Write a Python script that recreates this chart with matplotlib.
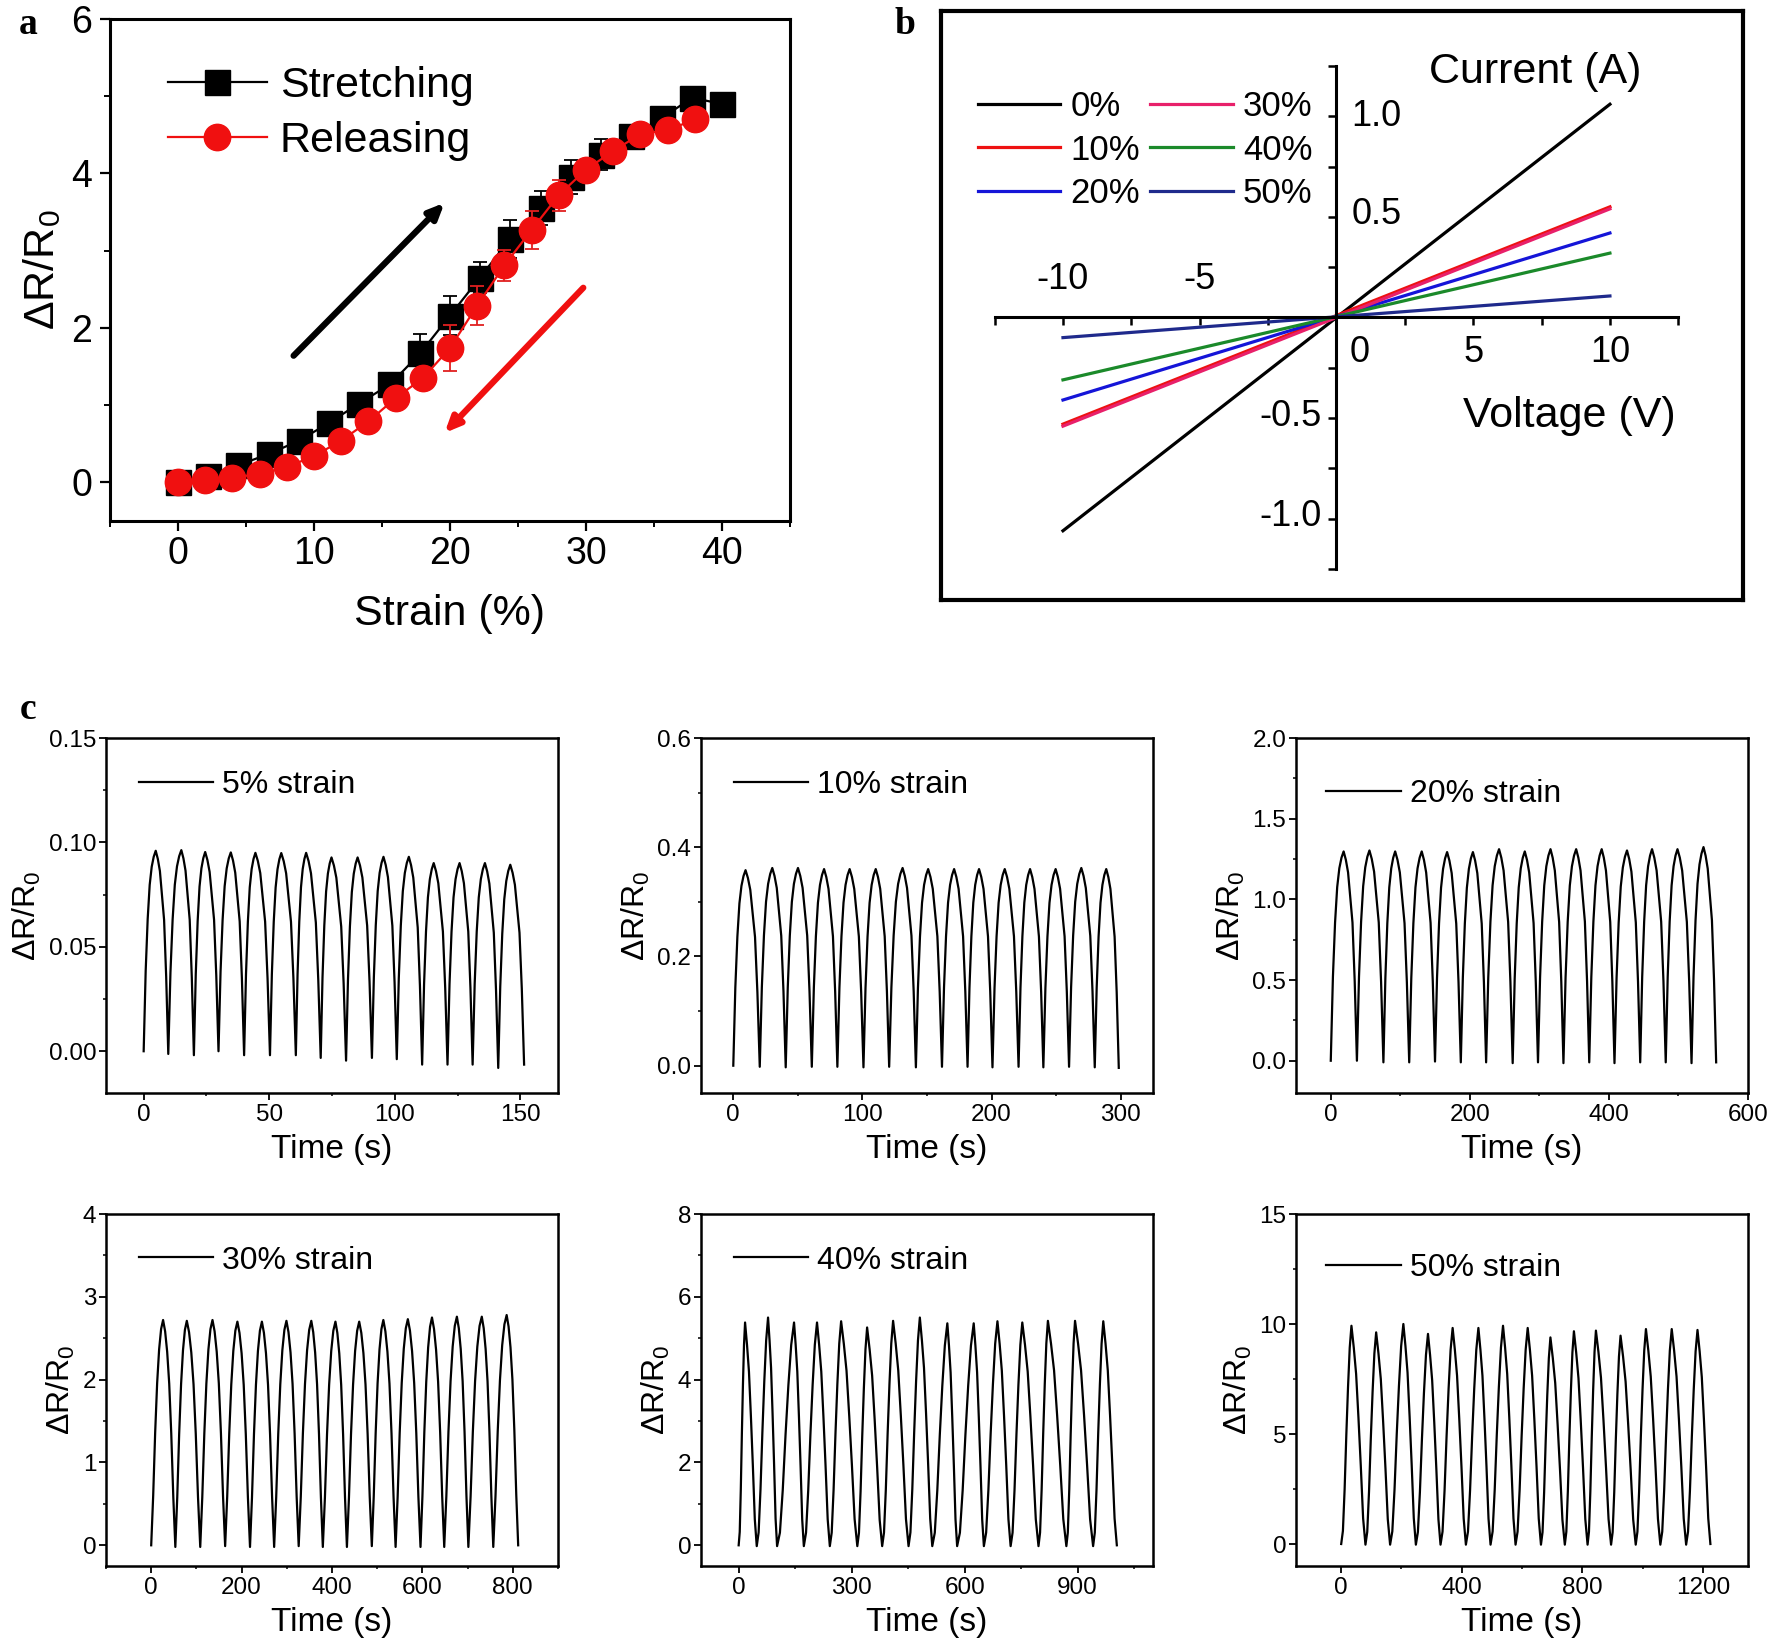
import numpy as np
import matplotlib
matplotlib.use("Agg")
import matplotlib.pyplot as plt
from matplotlib.lines import Line2D
from matplotlib.ticker import MultipleLocator, FormatStrFormatter

plt.rcParams["font.family"] = ["Liberation Sans", "DejaVu Sans"]
plt.rcParams["mathtext.fontset"] = "custom"
plt.rcParams["mathtext.rm"] = "Liberation Sans"
plt.rcParams["mathtext.it"] = "Liberation Sans:italic"
plt.rcParams["mathtext.bf"] = "Liberation Sans:bold"

# ---------------- panel a: strain response ----------------
strain_stretch = [0, 2.2, 4.4, 6.7, 8.9, 11.1, 13.3, 15.6, 17.8, 20.0,
                  22.2, 24.4, 26.7, 28.9, 31.1, 33.3, 35.6, 37.8, 40.0]
dr_stretch = [0.0, 0.08, 0.22, 0.37, 0.54, 0.77, 1.02, 1.27, 1.67, 2.16,
              2.65, 3.15, 3.55, 3.95, 4.24, 4.48, 4.72, 4.98, 4.90]
err_stretch = [0.03, 0.05, 0.05, 0.05, 0.05, 0.05, 0.08, 0.08, 0.25, 0.25,
               0.20, 0.25, 0.22, 0.22, 0.20, 0.08, 0.08, 0.05, 0.05]
strain_release = [0, 2, 4, 6, 8, 10, 12, 14, 16, 18,
                  20, 22, 24, 26, 28, 30, 32, 34, 36, 38]
dr_release = [0.01, 0.03, 0.06, 0.11, 0.20, 0.34, 0.54, 0.79, 1.09, 1.35,
              1.74, 2.29, 2.81, 3.27, 3.72, 4.05, 4.29, 4.51, 4.56, 4.70]
err_release = [0.03, 0.05, 0.05, 0.05, 0.05, 0.05, 0.05, 0.05, 0.05, 0.08,
               0.30, 0.25, 0.20, 0.25, 0.20, 0.08, 0.08, 0.05, 0.08, 0.05]

# ---------------- panel b: I-V curves ----------------
iv_voltage = [-10, 10]
iv_labels = ["0%", "10%", "20%", "30%", "40%", "50%"]
iv_current_0 = [-1.06, 1.06]
iv_current_10 = [-0.53, 0.55]
iv_current_20 = [-0.41, 0.42]
iv_current_30 = [-0.54, 0.54]
iv_current_40 = [-0.31, 0.32]
iv_current_50 = [-0.10, 0.107]
iv_colors = ["#000000", "#ee1111", "#1515d8", "#e8206a", "#1b8a2a", "#1f2a8c"]

# ---------------- panel c: cyclic tests ----------------
cycle_labels = ["5% strain", "10% strain", "20% strain",
                "30% strain", "40% strain", "50% strain"]

valley_t_5 = [0, 9.8, 20, 29.8, 40, 50.3, 60.6, 70.5, 80.6, 90.9, 100.8, 110.9, 121, 131, 141.2, 151.5]
valley_v_5 = [0, -0.0013, -0.0019, 0, -0.0019, -0.0019, -0.0019, -0.0032, -0.0045, -0.0032,
              -0.0038, -0.0064, -0.0064, -0.0064, -0.008, -0.0064]
peak_t_5 = [4.8, 15, 24.5, 34.7, 44.5, 54.8, 64.7, 74.8, 85.2, 95.5, 105.6, 115.5, 125.8, 135.9, 146]
peak_v_5 = [0.096, 0.0963, 0.0954, 0.0952, 0.095, 0.0949, 0.095, 0.0928, 0.0928, 0.0931,
            0.0931, 0.0901, 0.0901, 0.0901, 0.0893]

valley_t_10 = [0, 20.5, 40.6, 60.8, 80.6, 100.8, 120.7, 141.4, 161.6, 181.4, 200.7, 220.9, 240.1, 260, 279.9, 298.5]
valley_v_10 = [0, -0.002, -0.003, -0.002, -0.002, -0.003, -0.002, -0.003, -0.002, -0.002,
               -0.003, -0.002, -0.003, -0.002, -0.003, -0.004]
peak_t_10 = [9.5, 30.2, 50.1, 70.3, 90.1, 110.3, 131.1, 150.9, 171, 190.3, 210.2, 229.8, 249.6, 269.5, 288.8]
peak_v_10 = [0.358, 0.362, 0.362, 0.36, 0.36, 0.36, 0.362, 0.36, 0.36, 0.36, 0.36, 0.36, 0.36, 0.362, 0.36]

valley_t_20 = [0, 37.6, 75.7, 112.8, 149.9, 187, 223.4, 261.6, 298, 334.6, 371.7, 408, 445, 481.7, 518.8, 554.2]
valley_v_20 = [0, 0, -0.01, -0.01, -0.005, -0.01, -0.01, -0.015, -0.01, -0.015, -0.01, -0.015,
               -0.01, -0.01, -0.015, -0.01]
peak_t_20 = [18.5, 55.6, 92.6, 130.8, 167.3, 204.4, 242, 279, 316, 352.9, 389.6, 426, 462, 498.6, 536]
peak_v_20 = [1.297, 1.303, 1.297, 1.297, 1.293, 1.293, 1.311, 1.297, 1.311, 1.311, 1.311, 1.303,
             1.311, 1.311, 1.324]

valley_t_30 = [0, 53.4, 108.5, 163.6, 218.6, 272, 326.3, 379.7, 433, 488.1, 540.7, 595.8, 648.3, 701.7, 756.8, 811.9]
valley_v_30 = [0, -0.02, -0.02, -0.01, -0.02, -0.02, -0.01, -0.02, -0.02, -0.01, -0.02, -0.02,
               -0.02, -0.02, -0.02, 0]
peak_t_30 = [26.3, 78.8, 135.6, 190.7, 244.9, 299.2, 354.2, 407.6, 460.2, 513.6, 567.8, 621.2, 676.3, 731.4, 786.4]
peak_v_30 = [2.72, 2.71, 2.72, 2.70, 2.70, 2.71, 2.71, 2.70, 2.70, 2.72, 2.73, 2.75, 2.76, 2.76, 2.78]

valley_t_40 = [0, 48, 102, 173, 242, 315, 381, 451, 514, 580, 651, 722, 796, 870, 941, 1004]
valley_v_40 = [0, -0.02, -0.02, -0.02, -0.02, -0.02, -0.02, -0.02, -0.02, -0.02, -0.02, -0.02,
               -0.02, -0.02, -0.02, 0]
peak_t_40 = [17, 78, 147, 208, 272, 341, 410, 481, 554, 624, 687, 753, 821, 893, 968]
peak_v_40 = [5.38, 5.50, 5.38, 5.38, 5.41, 5.26, 5.42, 5.50, 5.36, 5.36, 5.41, 5.38, 5.42, 5.42, 5.41]

valley_t_50 = [0, 80.5, 162.3, 247.8, 329.6, 413.8, 495.6, 578.6, 662.9, 742.1, 817.6, 895.6,
               977.4, 1059.1, 1144.7, 1225.2]
valley_v_50 = [0, -0.03, -0.03, -0.03, -0.03, -0.03, -0.03, -0.03, -0.03, -0.03, -0.03, -0.03,
               -0.03, -0.03, -0.03, 0]
peak_t_50 = [34, 116, 206.3, 288, 369.8, 455.3, 537, 618.9, 694.3, 772.3, 845.3, 927,
             1011.3, 1096.9, 1182.4]
peak_v_50 = [9.92, 9.62, 10.0, 9.55, 9.82, 9.82, 9.92, 9.82, 9.39, 9.67, 9.70, 9.47, 9.77, 9.77, 9.73]

# half-cycle shapes (fraction of the swing, 7 points each)
rise_sharp = [0, 0.40, 0.66, 0.83, 0.92, 0.97, 1.0]
fall_sharp = [1.0, 0.96, 0.90, 0.78, 0.66, 0.38, 0]
rise_mid = [0, 0.22, 0.50, 0.72, 0.87, 0.96, 1.0]
fall_mid = [1.0, 0.95, 0.86, 0.72, 0.50, 0.22, 0]
rise_round = [0, 0.06, 0.25, 0.50, 0.72, 0.90, 1.0]
fall_round = [1.0, 0.90, 0.78, 0.58, 0.36, 0.12, 0]


def cycle_trace(vt, vv, pt, pv, rise, fall):
    """Join valley -> peak -> valley with the read-off half-cycle shapes."""
    u = np.linspace(0, 1, len(rise))
    xs, ys = [], []
    for i in range(len(pt)):
        xs += list(vt[i] + (pt[i] - vt[i]) * u)
        ys += list(vv[i] + (pv[i] - vv[i]) * np.array(rise))
        xs += list(pt[i] + (vt[i + 1] - pt[i]) * u[1:])
        ys += list(vv[i + 1] + (pv[i] - vv[i + 1]) * np.array(fall[1:]))
    return xs, ys


fig = plt.figure(figsize=(17.72, 16.51), dpi=100)
W, H = 1772.0, 1651.0


def rect(l, t, r, b):
    return [l / W, 1 - b / H, (r - l) / W, (b - t) / H]


# ---------------- draw panel a ----------------
red = "#f01010"
ax = fig.add_axes(rect(110, 19, 790, 521))
ax.errorbar(strain_stretch, dr_stretch, yerr=err_stretch, color="black", lw=1.6,
            marker="s", ms=18, mfc="black", mec="black", ecolor="black",
            elinewidth=1.3, capsize=5, capthick=1.3, zorder=3)
ax.errorbar(strain_release, dr_release, yerr=err_release, color=red, lw=1.6,
            marker="o", ms=19, mfc=red, mec=red, ecolor="#e02020",
            elinewidth=1.3, capsize=5, capthick=1.3, zorder=4)
ax.annotate("", xy=(19.6, 3.62), xytext=(8.5, 1.64),
            arrowprops=dict(arrowstyle="-|>,head_length=0.9,head_width=0.4",
                            lw=4.5, color="black", shrinkA=0, shrinkB=0))
ax.annotate("", xy=(19.6, 0.64), xytext=(29.8, 2.52),
            arrowprops=dict(arrowstyle="-|>,head_length=0.9,head_width=0.4",
                            lw=4.5, color=red, shrinkA=0, shrinkB=0))
ax.set_xlim(-5, 45)
ax.set_ylim(-0.5, 6)
ax.xaxis.set_major_locator(MultipleLocator(10))
ax.xaxis.set_minor_locator(MultipleLocator(5))
ax.yaxis.set_major_locator(MultipleLocator(2))
ax.yaxis.set_minor_locator(MultipleLocator(1))
ax.tick_params(which="major", direction="out", length=7, width=1.6, labelsize=27, pad=4)
ax.tick_params(which="minor", direction="out", length=4, width=1.4)
ax.tick_params(axis="y", pad=6)
for s in ax.spines.values():
    s.set_linewidth(2.2)
ax.set_xlabel("Strain (%)", fontsize=31, labelpad=16)
ax.set_ylabel("ΔR/R$_0$", fontsize=31, labelpad=6)
leg_handles = [Line2D([], [], color="black", lw=1.6, marker="s", ms=18),
               Line2D([], [], color=red, lw=1.6, marker="o", ms=19)]
ax.legend(leg_handles, ["Stretching", "Releasing"], loc="upper left",
          bbox_to_anchor=(0.085, 0.907), frameon=False, fontsize=31,
          handlelength=2.3, handletextpad=0.3, labelspacing=0.35,
          borderpad=0, borderaxespad=0)

# ---------------- draw panel b ----------------
frame = fig.add_axes(rect(941, 11, 1743, 600))
frame.set_xticks([])
frame.set_yticks([])
for s in frame.spines.values():
    s.set_linewidth(3)

axb = fig.add_axes(rect(994.6, 66, 1678.3, 569))
axb.patch.set_alpha(0)
iv_currents = [iv_current_0, iv_current_10, iv_current_20,
               iv_current_30, iv_current_40, iv_current_50]
for lab, cur, col in zip(iv_labels, iv_currents, iv_colors):
    axb.plot(iv_voltage, cur, color=col, lw=2.3, label=lab)
axb.set_xlim(-12.5, 12.5)
axb.set_ylim(-1.24, 1.24)
axb.spines["left"].set_position(("data", 0))
axb.spines["bottom"].set_position(("data", 0))
axb.spines["right"].set_visible(False)
axb.spines["top"].set_visible(False)
axb.spines["left"].set_linewidth(2.2)
axb.spines["bottom"].set_linewidth(2.2)
axb.set_xticks(np.arange(-12.5, 12.6, 2.5))
axb.set_yticks(np.arange(-1.25, 1.26, 0.25))
axb.tick_params(direction="out", length=6, width=1.8, labelbottom=False, labelleft=False)
for x in [-10, -5]:
    axb.text(x, 0.19, f"-{abs(x)}", fontsize=26, ha="center", va="center")
for x, t in [(0.83, "0"), (5, "5"), (10, "10")]:
    axb.text(x, -0.175, t, fontsize=26, ha="center", va="center")
axb.text(0.55, 1.0, "1.0", fontsize=26, ha="left", va="center")
axb.text(0.55, 0.51, "0.5", fontsize=26, ha="left", va="center")
axb.text(-0.55, -0.49, "-0.5", fontsize=26, ha="right", va="center")
axb.text(-0.55, -0.99, "-1.0", fontsize=26, ha="right", va="center")
axb.text(7.26, 1.22, "Current (A)", fontsize=31, ha="center", va="center")
axb.text(8.5, -0.49, "Voltage (V)", fontsize=31, ha="center", va="center")
axb.legend(loc="upper left", bbox_to_anchor=(-0.025, 0.952), ncol=2, frameon=False,
           fontsize=25, handlelength=2.38, handletextpad=0.29, labelspacing=0.3,
           columnspacing=0.3, borderpad=0, borderaxespad=0)

# ---------------- draw panel c ----------------
traces = [
    cycle_trace(valley_t_5, valley_v_5, peak_t_5, peak_v_5, rise_sharp, fall_sharp),
    cycle_trace(valley_t_10, valley_v_10, peak_t_10, peak_v_10, rise_sharp, fall_sharp),
    cycle_trace(valley_t_20, valley_v_20, peak_t_20, peak_v_20, rise_sharp, fall_sharp),
    cycle_trace(valley_t_30, valley_v_30, peak_t_30, peak_v_30, rise_mid, fall_mid),
    cycle_trace(valley_t_40, valley_v_40, peak_t_40, peak_v_40, rise_round, fall_round),
    cycle_trace(valley_t_50, valley_v_50, peak_t_50, peak_v_50, rise_round, fall_round),
]
col_x = [(106, 558), (701, 1153), (1296, 1748)]
row_y = [(738, 1093), (1214, 1566)]
xlims = [(-15, 165), (-25, 325), (-50, 600), (-100, 900), (-100, 1100), (-150, 1350)]
ylims = [(-0.02, 0.15), (-0.05, 0.6), (-0.2, 2.0), (-0.25, 4), (-0.5, 8), (-1, 15)]
xsteps = [(50, 25), (100, 50), (200, 100), (200, 100), (300, 150), (400, 200)]
ysteps = [(0.05, 0.025), (0.2, 0.1), (0.5, 0.25), (1, 0.5), (2, 1), (5, 2.5)]
yfmts = ["%.2f", "%.1f", "%.1f", "%d", "%d", "%d"]
leg_y = [0.91, 0.91, 0.884, 0.91, 0.91, 0.888]
leg_x = [0.072, 0.072, 0.067, 0.072, 0.072, 0.067]

for k in range(6):
    r, c = divmod(k, 3)
    axc = fig.add_axes(rect(col_x[c][0], row_y[r][0], col_x[c][1], row_y[r][1]))
    xs, ys = traces[k]
    axc.plot(xs, ys, color="black", lw=1.6, label=cycle_labels[k])
    axc.set_xlim(*xlims[k])
    axc.set_ylim(*ylims[k])
    axc.xaxis.set_major_locator(MultipleLocator(xsteps[k][0]))
    axc.xaxis.set_minor_locator(MultipleLocator(xsteps[k][1]))
    axc.yaxis.set_major_locator(MultipleLocator(ysteps[k][0]))
    axc.yaxis.set_minor_locator(MultipleLocator(ysteps[k][1]))
    axc.yaxis.set_major_formatter(FormatStrFormatter(yfmts[k]))
    axc.tick_params(which="major", direction="out", length=5, width=1.3, labelsize=17.5, pad=3)
    axc.tick_params(which="minor", direction="out", length=2.5, width=1.1)
    axc.tick_params(axis="y", pad=2)
    for s in axc.spines.values():
        s.set_linewidth(1.8)
    axc.set_xlabel("Time (s)", fontsize=24, labelpad=6)
    axc.set_ylabel("ΔR/R$_0$", fontsize=23, labelpad=4)
    axc.legend(loc="upper left", bbox_to_anchor=(leg_x[k], leg_y[k]), frameon=False,
               fontsize=23, handlelength=2.33, handletextpad=0.28,
               borderpad=0, borderaxespad=0)

# panel letters
for letter, (px, py) in zip("abc", [(28, 25), (905, 25), (28, 709)]):
    fig.text(px / W, 1 - py / H, letter, fontsize=27, fontweight="bold",
             family="Liberation Serif", ha="center", va="center")

fig.savefig("out.png", dpi=100)
